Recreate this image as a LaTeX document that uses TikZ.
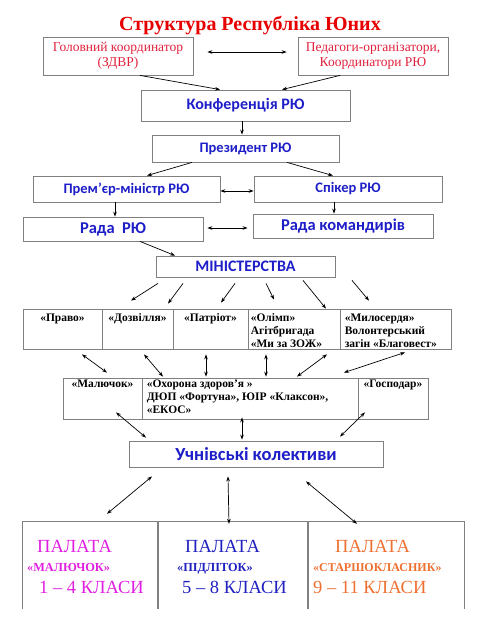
\documentclass[tikz,border=0pt]{standalone}
\usepackage{fontspec}
\setmainfont{Liberation Serif}
\newfontfamily\calib{Carlito}
\usetikzlibrary{calc,arrows.meta,positioning}
\definecolor{titlec}{HTML}{E60000}
\definecolor{headc}{HTML}{E0203C}
\definecolor{bluec}{HTML}{1E1EC8}
\definecolor{framec}{HTML}{808080}
\definecolor{magc}{HTML}{E020E0}
\definecolor{palblue}{HTML}{2020C0}
\definecolor{orngc}{HTML}{EE7030}
\newcommand\fsz[2]{\fontsize{#1}{#2}\selectfont}
\tikzset{
  box/.style={draw=framec,line width=0.8pt,inner sep=0pt,align=center},
  bl/.style={box,text=bluec,font=\calib\bfseries},
  ar/.style={-{Stealth[length=5pt,width=3.6pt]},line width=0.7pt},
  dar/.style={{Stealth[length=5pt,width=3.6pt]}-{Stealth[length=5pt,width=3.6pt]},line width=0.7pt},
  mt/.style={inner sep=0pt,font=\bfseries\fsz{11.5}{13}},
  pt/.style={inner sep=0pt,anchor=base west}
}
\begin{document}
\begin{tikzpicture}[x=1pt,y=-1pt]
\useasboundingbox (0,0) rectangle (479,619);
\node[text=titlec,font=\bfseries\fsz{20}{23},anchor=base] (title) at (250,30) {Структура Республіка Юних};
% top levels
\node[box,text=headc,font=\fsz{13.5}{15.5},minimum width=150,minimum height=38] (zdvr) at (118,56) {Головний координатор\\(ЗДВР)};
\node[box,text=headc,font=\fsz{13.5}{15.5},minimum width=150,minimum height=38] (ped) at (373,56) {Педагоги-організатори,\\Координатори РЮ};
\node[bl,font=\calib\bfseries\fsz{16}{19},minimum width=209,minimum height=31] (konf) at (245.5,105.5) {Конференція РЮ};
\node[bl,font=\calib\bfseries\fsz{14.5}{17},minimum width=187,minimum height=27] (prez) at (245.5,148.5) {Президент РЮ};
\node[bl,font=\calib\bfseries\fsz{14.5}{17},minimum width=187,minimum height=26] (prem) at (126.5,189) {Прем’єр-міністр РЮ};
\node[bl,font=\calib\bfseries\fsz{14.5}{17},minimum width=188,minimum height=26] (spik) at (348,189) {Спікер РЮ};
\node[bl,font=\calib\bfseries\fsz{16.5}{19},minimum width=180,minimum height=24] (rada) at (113,229) {Рада\ \ РЮ};
\node[bl,font=\calib\bfseries\fsz{16.5}{19},minimum width=180,minimum height=24] (komand) at (343,226) {Рада командирів};
\node[bl,font=\calib\bfseries\fsz{16}{19},minimum width=179,minimum height=21] (min) at (245.5,266.5) {МІНІСТЕРСТВА};
% ministries
\node[box,minimum width=79,minimum height=40] (prav) at (62.5,329) {};
\node[box,minimum width=71,minimum height=40] (dozv) at (137.5,329) {};
\node[box,minimum width=75,minimum height=40] (patr) at (210.5,329) {};
\node[box,minimum width=92,minimum height=40] (olimp) at (294,329) {};
\node[box,minimum width=111,minimum height=40] (mylos) at (395.5,329) {};
\node[mt,anchor=base] at ([yshift=-13pt]prav.north) {«Право»};
\node[mt,anchor=base] at ([yshift=-13pt]dozv.north) {«Дозвілля»};
\node[mt,anchor=base] at ([yshift=-13pt]patr.north) {«Патріот»};
\node[mt,anchor=north west,align=left] at ([xshift=3pt,yshift=-5pt]olimp.north west) {«Олімп»\\Агітбригада\\«Ми за ЗОЖ»};
\node[mt,anchor=north west,align=left] at ([xshift=5pt,yshift=-5pt]mylos.north west) {«Милосердя»\\Волонтерський\\загін «Благовест»};
% second row
\node[box,minimum width=79,minimum height=41] (malu) at (102.5,398.5) {};
\node[box,minimum width=216,minimum height=41] (ohor) at (250,398.5) {};
\node[box,minimum width=70,minimum height=41] (gosp) at (393,398.5) {};
\node[mt,anchor=base] at ([yshift=-10pt]malu.north) {«Малючок»};
\node[mt,anchor=base] at ([yshift=-10pt]gosp.north) {«Господар»};
\node[mt,anchor=north west,align=left] at ([xshift=5pt,yshift=-2pt]ohor.north west) {«Охорона здоров’я »\\ДЮП «Фортуна», ЮІР «Клаксон»,\\«ЕКОС»};
\node[bl,font=\calib\bfseries\fsz{18.5}{22},minimum width=254,minimum height=26] (uchn) at (256,454) {Учнівські колективи};
% chambers
\node[inner sep=0pt,minimum width=135,minimum height=87] (pal1) at (90.5,565.5) {};
\node[inner sep=0pt,minimum width=150,minimum height=87] (pal2) at (233,565.5) {};
\node[inner sep=0pt,minimum width=156,minimum height=87] (pal3) at (386,565.5) {};
\foreach \p in {pal1,pal2,pal3}
  \draw[framec,line width=0.8pt] (\p.south west)--(\p.north west)--(\p.north east)--(\p.south east);
\node[pt,text=magc,font=\fsz{18.5}{22}] at (37,552) {ПАЛАТА};
\node[pt,text=magc,font=\bfseries\fsz{12.3}{14}] at (27,571) {«МАЛЮЧОК»};
\node[pt,text=magc,font=\fsz{18.5}{22}] at (39,593) {1 – 4 КЛАСИ};
\node[pt,text=palblue,font=\fsz{18.5}{22}] at (185,552) {ПАЛАТА};
\node[pt,text=palblue,font=\bfseries\fsz{12.3}{14}] at (177,571) {«ПІДЛІТОК»};
\node[pt,text=palblue,font=\fsz{18.5}{22}] at (182,593) {5 – 8 КЛАСИ};
\node[pt,text=orngc,font=\fsz{18.5}{22}] at (335,552) {ПАЛАТА};
\node[pt,text=orngc,font=\bfseries\fsz{12}{14}] at (313,571) {«СТАРШОКЛАСНИК»};
\node[pt,text=orngc,font=\fsz{18.5}{22}] at (313,593) {9 – 11 КЛАСИ};
% connectors
\draw[dar] ([xshift=14pt,yshift=4pt]zdvr.east) -- ([xshift=-11pt,yshift=4pt]ped.west);
\draw[ar] ([xshift=22pt]zdvr.south) -- ([xshift=-25.5pt]konf.north);
\draw[ar] ([xshift=-33pt]ped.south) -- ([xshift=36.5pt]konf.north);
\draw[ar] ([xshift=-3.5pt]konf.south) -- ([xshift=-3.5pt]prez.north);
\draw[ar] ([xshift=-53.5pt]prez.south) -- ([xshift=20.5pt]prem.north);
\draw[ar] ([xshift=41.5pt]prez.south) -- ([xshift=-15pt]spik.north);
\draw[dar] ([yshift=-2pt]prem.east) -- ([yshift=-2pt]spik.west);
\draw[ar] ([xshift=-11.5pt]prem.south) -- ([xshift=2pt]rada.north);
\draw[ar] ([xshift=-14pt]spik.south) -- ([xshift=-9pt]komand.north);
\draw[dar] ([xshift=4pt,yshift=1pt]rada.east) -- ([xshift=-5pt,yshift=-2pt]komand.west);
\draw[ar] ([xshift=27pt]rada.south) -- ([xshift=-70.5pt]min.north);
\draw[ar] ([xshift=-87.5pt,yshift=-6pt]min.south) -- ([xshift=-6.5pt,yshift=8pt]dozv.north);
\draw[ar] ([xshift=-62.5pt,yshift=-6pt]min.south) -- ([xshift=30.5pt,yshift=5pt]dozv.north);
\draw[ar] ([xshift=-10.5pt,yshift=-6pt]min.south) -- ([xshift=10.5pt,yshift=6pt]patr.north);
\draw[ar] ([xshift=20.5pt,yshift=-6pt]min.south) -- ([xshift=-20pt,yshift=9pt]olimp.north);
\draw[ar] ([xshift=57.5pt,yshift=-3pt]min.south) -- ([xshift=32pt]olimp.north);
\draw[ar] ([xshift=106.5pt,yshift=-3pt]min.south) -- ([xshift=-26.5pt,yshift=8pt]mylos.north);
\draw[dar] ([xshift=19.5pt,yshift=-5pt]prav.south) -- ([xshift=4.5pt,yshift=5pt]malu.north);
\draw[dar] ([xshift=6.5pt,yshift=-5pt]dozv.south) -- ([xshift=-87pt,yshift=1pt]ohor.north);
\draw[dar] ([xshift=-4.5pt,yshift=-5pt]patr.south) -- ([xshift=-44pt,yshift=1pt]ohor.north);
\draw[dar] ([xshift=-28pt,yshift=-5pt]olimp.south) -- ([xshift=16pt,yshift=1pt]ohor.north);
\draw[dar] ([xshift=33pt,yshift=-5pt]olimp.south) -- ([xshift=47pt,yshift=1pt]ohor.north);
\draw[dar] ([xshift=9.5pt,yshift=-3pt]mylos.south) -- ([xshift=94pt,yshift=5pt]ohor.north);
\draw[dar] ([xshift=13.5pt,yshift=7pt]malu.south) -- ([xshift=-110pt,yshift=3pt]uchn.north);
\draw[dar] ([xshift=-8pt,yshift=2pt]ohor.south) -- ([xshift=-14pt,yshift=1pt]uchn.north);
\draw[dar] ([xshift=-28pt,yshift=7pt]gosp.south) -- ([xshift=84pt,yshift=4pt]uchn.north);
\draw[dar] ([xshift=-104pt,yshift=-9pt]uchn.south) -- ([xshift=16.5pt,yshift=8pt]pal1.north);
\draw[dar] ([xshift=-28pt,yshift=-9pt]uchn.south) -- ([xshift=-4pt,yshift=-2pt]pal2.north);
\draw[dar] ([xshift=50pt,yshift=-14pt]uchn.south) -- ([xshift=-29pt,yshift=-2pt]pal3.north);
\end{tikzpicture}
\end{document}
